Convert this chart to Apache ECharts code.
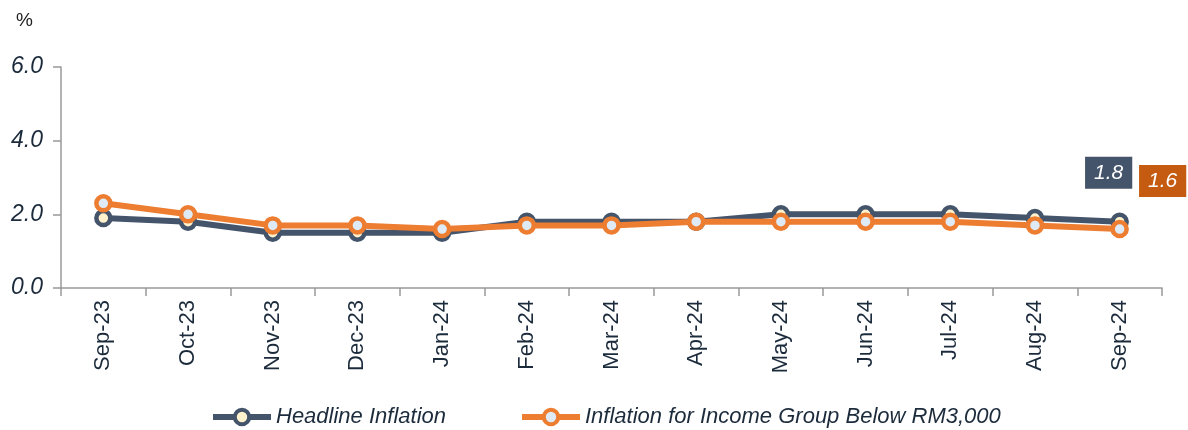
<!DOCTYPE html>
<html><head><meta charset="utf-8">
<script src="https://cdn.jsdelivr.net/npm/echarts@6/dist/echarts.min.js"></script>
<style>html,body{margin:0;padding:0;background:#fff}#c{width:1188px;height:430px}</style>
</head><body><div id="c"></div>
<script>
const categories = ['Sep-23','Oct-23','Nov-23','Dec-23','Jan-24','Feb-24','Mar-24','Apr-24','May-24','Jun-24','Jul-24','Aug-24','Sep-24'];
const headline = [1.9,1.8,1.5,1.5,1.5,1.8,1.8,1.8,2.0,2.0,2.0,1.9,1.8];
const lowIncome = [2.3,2.0,1.7,1.7,1.6,1.7,1.7,1.8,1.8,1.8,1.8,1.7,1.6];
const yTicks = [0,2,4,6];

const FONT = 'Liberation Sans, Arial, sans-serif';
function withLastLabel(arr, bg, offset){
  return arr.map((v,i)=> i===arr.length-1 ? {value:v, label:{show:true, formatter: v.toFixed(1), backgroundColor:bg, color:'#fff', fontStyle:'italic', fontSize:21, fontFamily:FONT, padding:[6,9,5,9], offset:offset, position:'inside'}} : v);
}
const legendText = {fontSize:22,fontStyle:'italic',fontFamily:FONT,color:'#1c2b3c'};
const chart = echarts.init(document.getElementById('c'));
chart.setOption({
  animation:false,
  grid:{left:61,right:26,top:67,bottom:142},
  graphic:[{type:'text',left:16,top:11,style:{text:'%',fontSize:19,fontFamily:FONT,fill:'#222'}}],
  legend:[
    {top:401,left:205,itemWidth:58,itemHeight:18,itemGap:4,textStyle:legendText,lineStyle:{width:6},itemStyle:{borderWidth:4},data:['Headline Inflation']},
    {top:401,left:514,itemWidth:58,itemHeight:18,itemGap:4,textStyle:legendText,lineStyle:{width:6},itemStyle:{borderWidth:4},data:['Inflation for Income Group Below RM3,000']}
  ],
  xAxis:{type:'category',data:categories,boundaryGap:true,
    axisLine:{lineStyle:{color:'#999',width:1.5}},
    axisTick:{show:true,length:8,lineStyle:{color:'#999',width:1.5}},
    axisLabel:{rotate:90,fontSize:22,fontFamily:FONT,color:'#1c2b3c',margin:12}},
  yAxis:{type:'value',min:yTicks[0],max:yTicks[yTicks.length-1],interval:2,
    splitLine:{show:false},
    axisLine:{show:true,lineStyle:{color:'#999',width:1.5}},
    axisTick:{show:true,length:8,inside:false,lineStyle:{color:'#999',width:1.5}},
    axisLabel:{formatter:v=>v.toFixed(1),fontSize:23,fontStyle:'italic',fontFamily:FONT,color:'#1c2b3c',margin:18}},
  series:[
    {name:'Headline Inflation',type:'line',data:withLastLabel(headline,'#44546A',[-11,-49]),
     lineStyle:{color:'#44546A',width:6},itemStyle:{color:'#FFF2CC',borderColor:'#44546A',borderWidth:4.5},
     symbol:'circle',symbolSize:14,z:2},
    {name:'Inflation for Income Group Below RM3,000',type:'line',data:withLastLabel(lowIncome,'#C55A11',[43,-48]),
     lineStyle:{color:'#ED7D31',width:6},itemStyle:{color:'#DEEBF7',borderColor:'#ED7D31',borderWidth:4.5},
     symbol:'circle',symbolSize:14,z:3}
  ]
});
</script></body></html>
